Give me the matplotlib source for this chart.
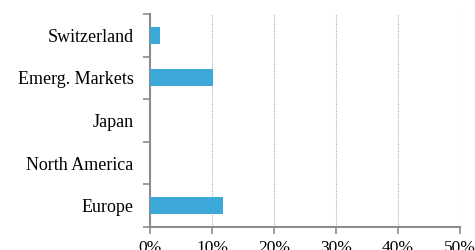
import numpy as np
import matplotlib.pyplot as plt

# --- DATA ---
REGIONS = ["Europe", "North America", "Japan", "Emerg. Markets", "Switzerland"]
WEIGHTS = [11.8, 0.0, 0.0, 10.2, 1.6]   # in %
X_TICKS = [0, 10, 20, 30, 40, 50]

# --- STYLE ---
BAR_COLOR = "#3DA9D8"
AXIS_COLOR = "#8C8C8C"
plt.rcParams["font.family"] = ["Liberation Serif", "DejaVu Serif"]

fig = plt.figure(figsize=(4.75, 2.5), dpi=100)
ax = fig.add_axes([0.316, 0.092, 0.652, 0.852])

y = np.arange(len(REGIONS))
ax.barh(y, WEIGHTS, height=0.4, color=BAR_COLOR, zorder=3)

ax.set_xlim(0, 50)
ax.set_ylim(-0.5, len(REGIONS) - 0.5)

# grid
ax.set_xticks(X_TICKS)
ax.set_xticklabels([f"{t}%" for t in X_TICKS], fontsize=12.5)
ax.xaxis.grid(True, linestyle=(0, (1, 1)), color="#B0B0B0", linewidth=0.8, zorder=0)

# y: ticks on boundaries, labels in between
ax.set_yticks(np.arange(-0.5, len(REGIONS), 1.0))
ax.set_yticklabels([])
ax.set_yticks(y, minor=True)
ax.set_yticklabels(REGIONS, minor=True, fontsize=13)
ax.tick_params(axis="y", which="minor", length=0, pad=12)
ax.tick_params(axis="y", which="major", length=5, color=AXIS_COLOR, width=1.2)
ax.tick_params(axis="x", length=5, color=AXIS_COLOR, width=1.2, pad=4)

for s in ["top", "right"]:
    ax.spines[s].set_visible(False)
for s in ["left", "bottom"]:
    ax.spines[s].set_color(AXIS_COLOR)
    ax.spines[s].set_linewidth(1.5)

plt.savefig("out.png", dpi=100)
plt.close()
